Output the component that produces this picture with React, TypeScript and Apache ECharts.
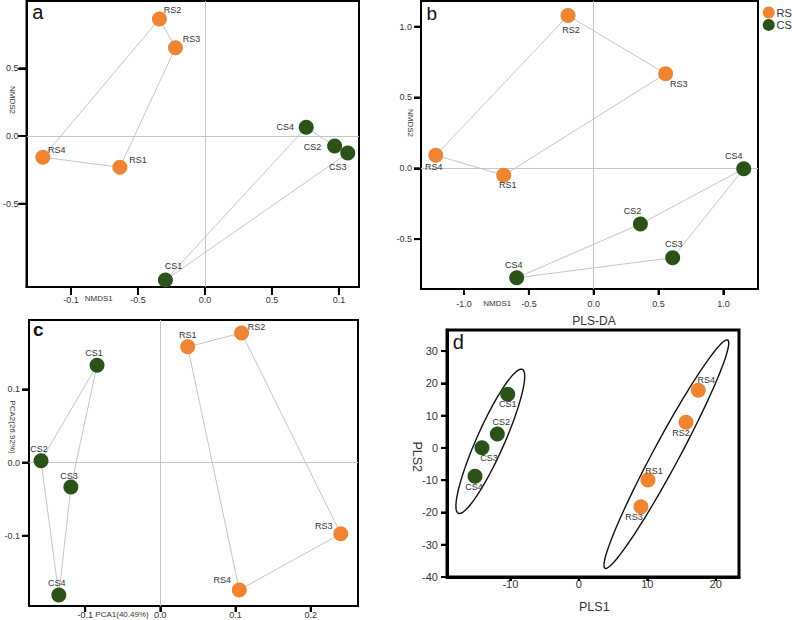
import React, { useEffect, useRef } from "react";
import * as echarts from "echarts";

const FONT = "'Liberation Sans', Arial, sans-serif";
const ORANGE = "#EF8433";
const GREEN = "#2B5218";

// ---- Panel a (NMDS) ----
const aRSNames = ["RS1", "RS2", "RS3", "RS4"];
const aRSX = [-0.635, -0.34, -0.22, -1.21];
const aRSY = [-0.231, 0.864, 0.652, -0.157];
const aCSNames = ["CS1", "CS2", "CS3", "CS4"];
const aCSX = [-0.295, 0.968, 1.066, 0.756];
const aCSY = [-1.064, -0.074, -0.126, 0.064];
const aRSHull = [1, 2, 0, 3];
const aCSHull = [3, 1, 2, 0];
const aXTicks = [-1, -0.5, 0, 0.5, 1];
const aXLabels = ["-0.1", "-0.5", "0.0", "0.5", "0.1"];
const aYTicks = [-0.5, 0, 0.5];
const aYLabels = ["-0.5", "0.0", "0.5"];

// ---- Panel b (NMDS) ----
const bRSNames = ["RS1", "RS2", "RS3", "RS4"];
const bRSX = [-0.694, -0.198, 0.555, -1.218];
const bRSY = [-0.049, 1.078, 0.668, 0.092];
const bCSNames = ["CS4", "CS2", "CS3", "CS4"];
const bCSX = [-0.594, 0.36, 0.609, 1.157];
const bCSY = [-0.773, -0.393, -0.631, -0.003];
const bRSHull = [1, 2, 0, 3];
const bCSHull = [3, 1, 0, 2];
const bXTicks = [-1, -0.5, 0, 0.5, 1];
const bXLabels = ["-1.0", "-0.5", "0.0", "0.5", "1.0"];
const bYTicks = [-0.5, 0, 0.5, 1];
const bYLabels = ["-0.5", "0.0", "0.5", "1.0"];

// ---- Panel c (PCA) ----
const cCSNames = ["CS1", "CS2", "CS3", "CS4"];
const cCSX = [-0.0842, -0.1587, -0.119, -0.135];
const cCSY = [0.133, 0.0025, -0.0335, -0.181];
const cRSNames = ["RS1", "RS2", "RS3", "RS4"];
const cRSX = [0.0364, 0.108, 0.24, 0.105];
const cRSY = [0.158, 0.177, -0.0973, -0.174];
const cCSHull = [0, 1, 3, 2];
const cRSHull = [0, 1, 2, 3];
const cXTicks = [-0.1, 0, 0.1, 0.2];
const cXLabels = ["-0.1", "0.0", "0.1", "0.2"];
const cYTicks = [-0.1, 0, 0.1];
const cYLabels = ["-0.1", "0.0", "0.1"];

// ---- Panel d (PLS-DA) ----
const dCSNames = ["CS1", "CS2", "CS3", "CS4"];
const dCSX = [-10.38, -11.9, -14.14, -15.16];
const dCSY = [16.6, 4.3, 0.06, -8.8];
const dRSNames = ["RS1", "RS2", "RS3", "RS4"];
const dRSX = [10.1, 15.66, 9.08, 17.45];
const dRSY = [-9.95, 7.93, -18.2, 17.85];
// ellipse: major-axis end points (x1,y1,x2,y2) and minor/major ratio
const dCSEllipse = [-8.25, 24.35, -17.6, -20.26, 0.175];
const dRSEllipse = [21.75, 33.43, 3.83, -37.3, 0.1];
const dXTicks = [-10, 0, 10, 20];
const dXLabels = ["-10", "0", "10", "20"];
const dYTicks = [-40, -30, -20, -10, 0, 10, 20, 30];
const dYLabels = ["-40", "-30", "-20", "-10", "0", "10", "20", "30"];

// legend
const legendNames = ["RS", "CS"];
const legendColors = [ORANGE, GREEN];

// axis extents per panel: [xMin, xMax, yMin, yMax]
const EXT = [
  [-1.332, 1.15, -1.115, 0.997],
  [-1.332, 1.267, -0.852, 1.181],
  [-0.1747, 0.2629, -0.196, 0.1947],
  [-19.25, 23.4, -40, 36.53],
];

// label offsets (layout only), same order as the names arrays
const OFF = {
  aRS: [[18, -7], [13, -9], [16, -9], [14, -7]],
  aCS: [[8, -14], [-22, 1], [-10, 14], [-21, 0]],
  bRS: [[4, 10], [3, 14], [13, 10], [-2, 12]],
  bCS: [[-3, -13], [-8, -13], [1, -14], [-10, -13]],
  cCS: [[-3, -12], [-2, -12], [-2, -11], [-2, -12]],
  cRS: [[0, -12], [15, -6], [-17, -8], [-17, -10]],
  dCS: [[0, 10], [4, -12], [7, 10], [-1, 11]],
  dRS: [[6, -9], [-5, 11], [-7, 10], [8, -10]],
};

function lookup(ticks: number[], labels: string[]) {
  return (v: number) => {
    for (let i = 0; i < ticks.length; i++) if (Math.abs(ticks[i] - v) < 1e-9) return labels[i];
    return "";
  };
}

function axis(
  gridIndex: number,
  min: number,
  max: number,
  ticks: number[],
  labels: string[],
  tickLen: number,
  margin: number,
  fontSize: number,
  lineW = 2
) {
  return {
    type: "value",
    gridIndex,
    min,
    max,
    axisLine: { show: true, onZero: false, lineStyle: { color: "#000", width: lineW } },
    splitLine: { show: false },
    axisTick: { show: true, length: tickLen, customValues: ticks, lineStyle: { color: "#000", width: 2 } },
    axisLabel: {
      customValues: ticks,
      formatter: lookup(ticks, labels),
      margin,
      fontSize,
      color: "#333",
      fontFamily: FONT,
    },
  };
}

function scatter(name: string, color: string, gi: number, names: string[], xs: number[], ys: number[], off: number[][], zero: boolean) {
  const s: any = {
    type: "scatter",
    name,
    xAxisIndex: gi,
    yAxisIndex: gi,
    symbolSize: 15,
    z: 5,
    itemStyle: { color, opacity: 1 },
    label: {
      show: true,
      position: "inside",
      formatter: "{b}",
      fontSize: 9,
      color: "#333",
      fontFamily: FONT,
    },
    emphasis: { disabled: true },
    data: names.map((n, i) => ({ name: n, value: [xs[i], ys[i]], label: { offset: off[i] } })),
  };
  if (zero) {
    s.markLine = {
      silent: true,
      symbol: ["none", "none"],
      label: { show: false },
      lineStyle: { color: "#c4c4c4", width: 1, type: "solid" },
      data: [{ xAxis: 0 }, { yAxis: 0 }],
      z: 1,
    };
  }
  return s;
}

function hull(gi: number, xs: number[], ys: number[], order: number[]) {
  const pts = order.map((i) => [xs[i], ys[i]]);
  pts.push(pts[0]);
  return {
    type: "line",
    name: "hull",
    xAxisIndex: gi,
    yAxisIndex: gi,
    symbol: "none",
    silent: true,
    z: 2,
    lineStyle: { color: "#bdbdbd", width: 0.9 },
    data: pts,
  };
}

function ellipse(gi: number, e: number[]) {
  return {
    type: "custom",
    name: "ellipse",
    xAxisIndex: gi,
    yAxisIndex: gi,
    silent: true,
    clip: false,
    z: 3,
    encode: { x: [0, 2], y: [1, 3] },
    data: [e],
    renderItem: (_p: any, api: any) => {
      const p1 = api.coord([api.value(0), api.value(1)]);
      const p2 = api.coord([api.value(2), api.value(3)]);
      const ratio = api.value(4);
      const cx = (p1[0] + p2[0]) / 2;
      const cy = (p1[1] + p2[1]) / 2;
      const dx = p2[0] - p1[0];
      const dy = p2[1] - p1[1];
      const a = Math.hypot(dx, dy) / 2;
      const b = a * ratio;
      const ux = dx / (2 * a);
      const uy = dy / (2 * a);
      const points: number[][] = [];
      for (let k = 0; k < 96; k++) {
        const t = (2 * Math.PI * k) / 96;
        const ca = a * Math.cos(t);
        const sb = b * Math.sin(t);
        points.push([cx + ca * ux - sb * uy, cy + ca * uy + sb * ux]);
      }
      return {
        type: "polygon",
        shape: { points },
        style: { fill: "none", stroke: "#111", lineWidth: 1.4 },
      };
    },
  };
}

function txt(text: string, x: number, y: number, fontSize: number, rot = 0, weight = "normal", color = "#333", align = "center") {
  return {
    type: "text",
    x,
    y,
    rotation: rot,
    silent: true,
    style: {
      text,
      fontSize,
      fontWeight: weight,
      fontFamily: FONT,
      fill: color,
      align,
      verticalAlign: "middle",
    },
  };
}

export default function App() {
  const ref = useRef<HTMLDivElement>(null);
  useEffect(() => {
    if (!ref.current) return;
    const chart = echarts.init(ref.current, null, { renderer: "svg" });
    const gridBase = { show: true, borderColor: "#000", borderWidth: 2 };
    const legendGraphics: any[] = [];
    legendNames.forEach((n, i) => {
      legendGraphics.push({
        type: "circle",
        silent: true,
        shape: { cx: 768.7, cy: 12.5 + i * 12.4, r: 6 },
        style: { fill: legendColors[i] },
      });
      legendGraphics.push(txt(n, 776.5, 12.8 + i * 12.4, 11, 0, "normal", "#333", "left"));
    });
    const baseGraphics: any[] = [
      txt("a", 37.7, 12, 20, 0, "normal", "#111"),
      txt("b", 431.7, 13.5, 19, 0, "normal", "#111"),
      txt("c", 38.3, 329, 19, 0, "bold", "#111"),
      txt("d", 458.3, 342, 20, 0, "normal", "#111"),
      txt("NMDS1", 98.7, 298.5, 8),
      txt("NMDS2", 12.7, 100, 8, -Math.PI / 2),
      txt("NMDS1", 497.3, 303, 8),
      txt("NMDS2", 410.5, 123, 8, -Math.PI / 2),
      txt("PCA1(40.49%)", 122, 614.5, 8),
      txt("PCA2(26.92%)", 12, 427, 8, -Math.PI / 2),
      txt("PLS-DA", 594, 321, 12),
      txt("PLS1", 594.3, 606.7, 12.5),
      txt("PLS2", 416.7, 456.7, 12.5, -Math.PI / 2),
      ...legendGraphics,
    ];
    // tick lengths per panel: [x tick length, y tick length]
    const TL = [
      [8, 8],
      [6, 7],
      [6, 7],
      [4, 6],
    ];
    const option: any = {
      animation: false,
      backgroundColor: "#fff",
      grid: [
        { ...gridBase, left: 23, top: 1, width: 336, height: 286 },
        { ...gridBase, left: 421, top: 1, width: 337, height: 288 },
        { ...gridBase, left: 29, top: 320, width: 329, height: 286 },
        { ...gridBase, left: 447, top: 330, width: 292, height: 247, borderWidth: 3 },
      ],
      xAxis: [
        axis(0, EXT[0][0], EXT[0][1], aXTicks, aXLabels, TL[0][0], 8, 9),
        axis(1, EXT[1][0], EXT[1][1], bXTicks, bXLabels, TL[1][0], 10, 9),
        axis(2, EXT[2][0], EXT[2][1], cXTicks, cXLabels, TL[2][0], 4, 9),
        axis(3, EXT[3][0], EXT[3][1], dXTicks, dXLabels, TL[3][0], 1, 11, 3),
      ],
      yAxis: [
        axis(0, EXT[0][2], EXT[0][3], aYTicks, aYLabels, TL[0][1], 8, 9),
        axis(1, EXT[1][2], EXT[1][3], bYTicks, bYLabels, TL[1][1], 9, 9),
        axis(2, EXT[2][2], EXT[2][3], cYTicks, cYLabels, TL[2][1], 9, 9),
        axis(3, EXT[3][2], EXT[3][3], dYTicks, dYLabels, TL[3][1], 9, 11, 3),
      ],
      series: [
        hull(0, aRSX, aRSY, aRSHull),
        hull(0, aCSX, aCSY, aCSHull),
        scatter("RS", ORANGE, 0, aRSNames, aRSX, aRSY, OFF.aRS, true),
        scatter("CS", GREEN, 0, aCSNames, aCSX, aCSY, OFF.aCS, false),

        hull(1, bRSX, bRSY, bRSHull),
        hull(1, bCSX, bCSY, bCSHull),
        scatter("RS", ORANGE, 1, bRSNames, bRSX, bRSY, OFF.bRS, true),
        scatter("CS", GREEN, 1, bCSNames, bCSX, bCSY, OFF.bCS, false),

        hull(2, cCSX, cCSY, cCSHull),
        hull(2, cRSX, cRSY, cRSHull),
        scatter("CS", GREEN, 2, cCSNames, cCSX, cCSY, OFF.cCS, true),
        scatter("RS", ORANGE, 2, cRSNames, cRSX, cRSY, OFF.cRS, false),

        ellipse(3, dCSEllipse),
        ellipse(3, dRSEllipse),
        scatter("CS", GREEN, 3, dCSNames, dCSX, dCSY, OFF.dCS, false),
        scatter("RS", ORANGE, 3, dRSNames, dRSX, dRSY, OFF.dRS, false),
      ],
      graphic: baseGraphics,
    };
    chart.setOption(option);

    // reinforce tick marks through the axes' own scales
    const tickSets: [number, number[], number[]][] = [
      [0, aXTicks, aYTicks],
      [1, bXTicks, bYTicks],
      [2, cXTicks, cYTicks],
      [3, dXTicks, dYTicks],
    ];
    const tickGraphics: any[] = [];
    tickSets.forEach(([gi, xt, yt]) => {
      const e = EXT[gi];
      const [xl, yl] = TL[gi];
      xt.forEach((v) => {
        const p = chart.convertToPixel({ gridIndex: gi } as any, [v, e[2]]) as any;
        if (!p) return;
        tickGraphics.push({
          type: "rect",
          silent: true,
          z: 100,
          shape: { x: p[0] - 1, y: p[1], width: 2, height: xl },
          style: { fill: "#000" },
        });
      });
      yt.forEach((v) => {
        const p = chart.convertToPixel({ gridIndex: gi } as any, [e[0], v]) as any;
        if (!p) return;
        tickGraphics.push({
          type: "rect",
          silent: true,
          z: 100,
          shape: { x: p[0] - yl, y: p[1] - 1, width: yl, height: 2 },
          style: { fill: "#000" },
        });
      });
    });
    chart.setOption({ graphic: [...baseGraphics, ...tickGraphics] });
    return () => chart.dispose();
  }, []);
  return (
    <div
      ref={ref}
      style={{ position: "fixed", left: 0, top: 0, width: 792, height: 620, background: "#fff" }}
    />
  );
}
